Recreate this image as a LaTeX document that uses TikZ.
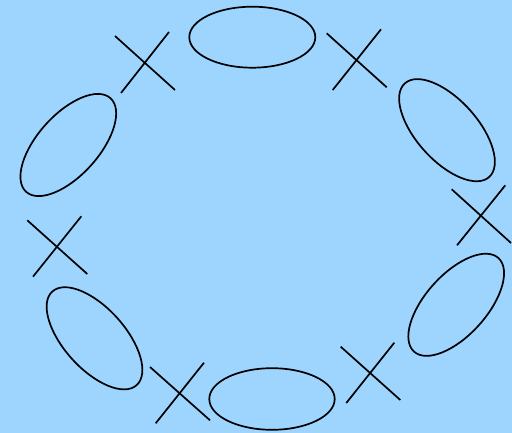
\documentclass[tikz,border=0pt]{standalone}
\definecolor{bg}{RGB}{157,213,255}
\begin{document}
\begin{tikzpicture}[x=1pt,y=-1pt,
  shp/.style={draw=black,line width=1.7pt},
  crs/.style={draw=black,line width=1.7pt}]
\fill[bg] (0,0) rectangle (512,433);
\useasboundingbox (0,0) rectangle (512,433);
% ellipses
\draw[shp,shift={(252.3,37.2)}] (0,0) ellipse (63pt and 30.5pt);
\draw[shp,shift={(272,399)}] (0,0) ellipse (62.7pt and 30.8pt);
\draw[shp,shift={(68.3,145)},rotate=48] (0,0) ellipse (63pt and 30.5pt);
\draw[shp,shift={(447,130.2)},rotate=-48] (0,0) ellipse (63pt and 30.5pt);
\draw[shp,shift={(456.2,304.8)},rotate=48] (0,0) ellipse (63pt and 30.5pt);
\draw[shp,shift={(94.5,338.3)},rotate=-48] (0,0) ellipse (63pt and 30.5pt);
% crosses
\coordinate (a1) at (115,36); \coordinate (a2) at (175,90);
\coordinate (a3) at (169,32); \coordinate (a4) at (121,93);
\draw[crs] (a1) -- (a2); \draw[crs] (a3) -- (a4);
\coordinate (b1) at (326.7,33.3); \coordinate (b2) at (386.7,87.3);
\coordinate (b3) at (381,29.3); \coordinate (b4) at (332.7,90);
\draw[crs] (b1) -- (b2); \draw[crs] (b3) -- (b4);
\coordinate (c1) at (451.7,189.3); \coordinate (c2) at (511,243);
\coordinate (c3) at (505.3,185.3); \coordinate (c4) at (457,245.3);
\draw[crs] (c1) -- (c2); \draw[crs] (c3) -- (c4);
\coordinate (d1) at (340.7,346.7); \coordinate (d2) at (400.3,400);
\coordinate (d3) at (394.3,342.7); \coordinate (d4) at (346.3,403);
\draw[crs] (d1) -- (d2); \draw[crs] (d3) -- (d4);
\coordinate (e1) at (150,367); \coordinate (e2) at (210,420.3);
\coordinate (e3) at (204,362.7); \coordinate (e4) at (155.7,423.3);
\draw[crs] (e1) -- (e2); \draw[crs] (e3) -- (e4);
\coordinate (f1) at (27.3,220.3); \coordinate (f2) at (87.3,274);
\coordinate (f3) at (81.3,216.3); \coordinate (f4) at (33,276.7);
\draw[crs] (f1) -- (f2); \draw[crs] (f3) -- (f4);
\end{tikzpicture}
\end{document}
